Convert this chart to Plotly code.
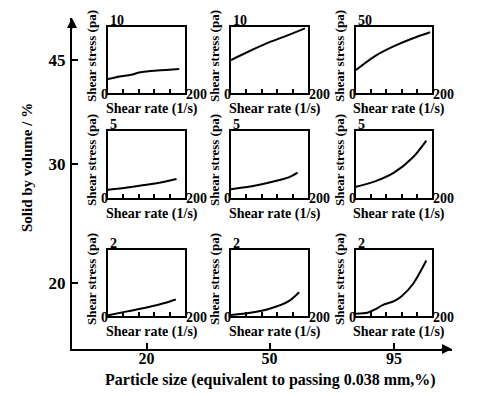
import plotly.graph_objects as go

# ---------------- data ----------------
particle_size_labels = ["20", "50", "95"]          # main x categories (passing 0.038 mm, %)
solid_volume_labels = ["45", "30", "20"]           # main y categories (solid by volume, %)
stress_max = [[10, 10, 50], [5, 5, 5], [2, 2, 2]]  # inset y-axis maxima (Pa)
rate_max = 200                                     # inset x-axis max (1/s)

rate_45_20 = [0, 30, 60, 80, 110, 150, 185]
stress_45_20 = [2.1, 2.5, 2.75, 3.1, 3.35, 3.5, 3.65]
rate_45_50 = [0, 50, 100, 150, 192]
stress_45_50 = [5.0, 6.4, 7.7, 8.8, 9.8]
rate_45_95 = [0, 50, 100, 150, 195]
stress_45_95 = [17.5, 28, 35.5, 41.5, 46]

rate_30_20 = [0, 50, 100, 150, 178]
stress_30_20 = [0.58, 0.75, 0.95, 1.2, 1.38]
rate_30_50 = [0, 50, 100, 150, 173]
stress_30_50 = [0.62, 0.82, 1.12, 1.5, 1.85]
rate_30_95 = [0, 50, 100, 150, 185]
stress_30_95 = [0.8, 1.2, 1.85, 3.0, 4.25]

rate_20_20 = [0, 50, 100, 150, 176]
stress_20_20 = [0.02, 0.14, 0.26, 0.4, 0.5]
rate_20_50 = [0, 50, 100, 150, 177]
stress_20_50 = [0.03, 0.1, 0.22, 0.45, 0.72]
rate_20_95 = [0, 30, 50, 70, 100, 120, 150, 185]
stress_20_95 = [0.07, 0.1, 0.2, 0.33, 0.45, 0.6, 0.97, 1.68]

curves = [
    [(rate_45_20, stress_45_20), (rate_45_50, stress_45_50), (rate_45_95, stress_45_95)],
    [(rate_30_20, stress_30_20), (rate_30_50, stress_30_50), (rate_30_95, stress_30_95)],
    [(rate_20_20, stress_20_20), (rate_20_50, stress_20_50), (rate_20_95, stress_20_95)],
]

# ---------------- layout geometry (pixels) ----------------
W, H = 492, 394
COLS = [(108, 185), (231, 308), (356, 432)]
ROWS = [(27, 93), (130.5, 197.5), (250, 316)]
AX_LEFT, AX_RIGHT, AX_TOP, AX_BOTTOM = 72, 452, 18, 349

def fx(px):
    return px / W

def fy(py):
    return 1 - py / H

FAM = "Liberation Serif, Times New Roman, serif"
def bold(size):
    return dict(family=FAM, size=size, color="black", weight="bold")

fig = go.Figure()
layout = {}
annotations = []

n = 0
for r in range(3):
    for c in range(3):
        n += 1
        xs, ys = curves[r][c]
        xa = "x" if n == 1 else f"x{n}"
        ya = "y" if n == 1 else f"y{n}"
        fig.add_trace(go.Scatter(x=xs, y=ys, mode="lines", xaxis=xa, yaxis=ya,
                                 line=dict(color="black", width=2, shape="spline", smoothing=0.8),
                                 showlegend=False, hoverinfo="skip"))
        xkey = "xaxis" if n == 1 else f"xaxis{n}"
        ykey = "yaxis" if n == 1 else f"yaxis{n}"
        layout[xkey] = dict(domain=[fx(COLS[c][0]), fx(COLS[c][1])], anchor=ya,
                            range=[0, rate_max], showgrid=False, zeroline=False,
                            showline=True, mirror=True, linecolor="black", linewidth=2,
                            ticks="inside", tickvals=[40, 80, 120, 160], ticklen=4,
                            tickwidth=1.5, tickcolor="black", showticklabels=False,
                            fixedrange=True)
        layout[ykey] = dict(domain=[fy(ROWS[r][1]), fy(ROWS[r][0])], anchor=xa,
                            range=[0, stress_max[r][c]], showgrid=False, zeroline=False,
                            showline=True, mirror=True, linecolor="black", linewidth=2,
                            ticks="", showticklabels=False, fixedrange=True)
        xd, yd = f"{xa} domain", f"{ya} domain"
        annotations += [
            dict(text=str(stress_max[r][c]), xref=xd, yref=yd, x=0, y=1, xanchor="left",
                 yanchor="bottom", yshift=-3, showarrow=False, font=bold(14)),
            dict(text="0", xref=xd, yref=yd, x=0, y=0, xanchor="right", yanchor="middle",
                 xshift=2, yshift=-1, showarrow=False, font=bold(14)),
            dict(text=str(rate_max), xref=xd, yref=yd, x=1, y=0, xanchor="left",
                 yanchor="middle", xshift=-1, yshift=-1, showarrow=False, font=bold(14)),
            dict(text="Shear stress (pa)", xref=xd, yref=yd, x=0, y=0.5, xanchor="center",
                 yanchor="middle", xshift=-17, yshift=4, textangle=-90, showarrow=False,
                 font=bold(13)),
            dict(text="Shear rate (1/s)", xref=xd, yref=yd, x=0.5, y=0, xanchor="center",
                 yanchor="top", xshift=5, yshift=-6, showarrow=False, font=bold(14)),
        ]

# main axes (pixel-unit ranges)
col_centers = [(a + b) / 2 for a, b in COLS]
row_centers = [(a + b) / 2 for a, b in ROWS]
fig.add_trace(go.Scatter(x=[], y=[], xaxis="x10", yaxis="y10", showlegend=False))
layout["xaxis10"] = dict(domain=[fx(AX_LEFT), fx(AX_RIGHT)], anchor="y10",
                         range=[AX_LEFT, AX_RIGHT], showgrid=False, zeroline=False,
                         showline=True, linecolor="black", linewidth=2,
                         ticks="inside", ticklen=6, tickwidth=2, tickcolor="black",
                         tickvals=col_centers, ticktext=particle_size_labels,
                         ticklabelstandoff=-6,
                         tickfont=bold(16), fixedrange=True)
layout["yaxis10"] = dict(domain=[fy(AX_BOTTOM), fy(AX_TOP)], anchor="x10",
                         range=[AX_BOTTOM, AX_TOP], showgrid=False, zeroline=False,
                         showline=True, linecolor="black", linewidth=2,
                         ticks="inside", ticklen=6, tickwidth=2, tickcolor="black",
                         tickvals=row_centers, ticktext=solid_volume_labels,
                         ticklabelstandoff=1,
                         tickfont=bold(17), fixedrange=True)

# arrowheads on the main axes
annotations += [
    dict(x=AX_RIGHT, y=AX_BOTTOM, xref="x10", yref="y10", ax=-12, ay=0, text="",
         showarrow=True, arrowhead=2, arrowsize=1, arrowwidth=2, arrowcolor="black"),
    dict(x=AX_LEFT, y=AX_TOP, xref="x10", yref="y10", ax=0, ay=12, text="",
         showarrow=True, arrowhead=2, arrowsize=1, arrowwidth=2, arrowcolor="black"),
    dict(text="Particle size (equivalent to passing 0.038 mm,%)", xref="paper", yref="paper",
         x=fx(270), y=fy(380), xanchor="center", yanchor="middle", showarrow=False,
         font=bold(16)),
    dict(text="Solid by volume / %", xref="paper", yref="paper", x=fx(27), y=fy(168),
         xanchor="center", yanchor="middle", textangle=-90, showarrow=False,
         font=bold(15)),
]

fig.update_layout(**layout)
fig.update_layout(width=W, height=H, margin=dict(l=0, r=0, t=0, b=0),
                  paper_bgcolor="white", plot_bgcolor="rgba(0,0,0,0)",
                  annotations=annotations, showlegend=False)
fig.write_html("out.html", config={"displayModeBar": False},
               post_script="document.body.style.margin='0';document.body.style.padding='0';")
